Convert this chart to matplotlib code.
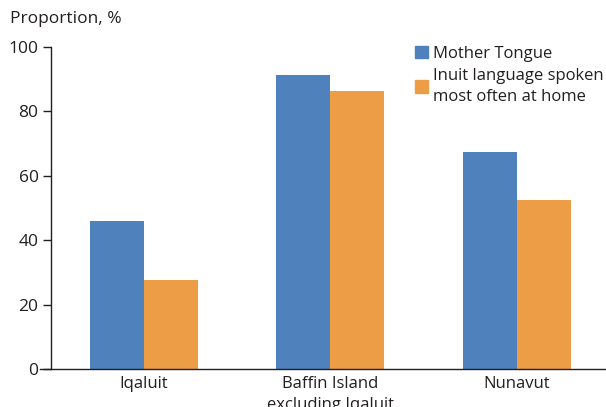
import matplotlib.pyplot as plt
import matplotlib.patches as mpatches
import numpy as np

plt.rcParams['font.family'] = ['Open Sans', 'DejaVu Sans']

# Data
regions = ["Iqaluit", "Baffin Island\nexcluding Iqaluit", "Nunavut"]
mother_tongue = [46.0, 91.3, 67.4]
spoken_home = [27.6, 86.3, 52.5]
series_labels = ["Mother Tongue", "Inuit language spoken\nmost often at home"]

blue = "#4F81BD"
orange = "#EC9D46"
text_color = "#231F20"

fig = plt.figure(figsize=(6.06, 4.07), dpi=100)
ax = fig.add_axes([51 / 606, 38 / 407, 1 - 51 / 606, 322 / 407])

x = np.arange(len(regions))
w = 0.29
ax.bar(x - w / 2, mother_tongue, w, color=blue)
ax.bar(x + w / 2, spoken_home, w, color=orange)

ax.set_xlim(-0.5, 2.48)
ax.set_ylim(0, 100)
ax.set_yticks(range(0, 101, 20))
ax.set_xticks(x)
ax.set_xticklabels(regions, fontsize=12, color=text_color, linespacing=1.4)
ax.tick_params(axis="x", length=0, pad=5)
ax.tick_params(axis="y", length=6, width=1.0, color=text_color,
               labelsize=12.5, labelcolor=text_color, pad=3)
for s in ["top", "right"]:
    ax.spines[s].set_visible(False)
for s in ["left", "bottom"]:
    ax.spines[s].set_color(text_color)
    ax.spines[s].set_linewidth(1.0)
ax.spines["bottom"].set_bounds(-0.56, 2.48)
ax.spines["bottom"].set_clip_on(False)

fig.text(10 / 606, 1 - 11 / 407, "Proportion, %", fontsize=12.5,
         color=text_color, ha="left", va="top")

handles = [mpatches.Patch(color=blue, label=series_labels[0]),
           mpatches.Patch(color=orange, label=series_labels[1])]
leg = ax.legend(handles=handles, loc="upper left", bbox_to_anchor=(0.643, 1.025),
                frameon=False, fontsize=12, handlelength=0.8, handleheight=0.8,
                handletextpad=0.3, labelspacing=0.35, labelcolor=text_color,
                borderaxespad=0)
for t in leg.get_texts():
    t.set_linespacing(1.45)

plt.savefig("out.png", dpi=100)
